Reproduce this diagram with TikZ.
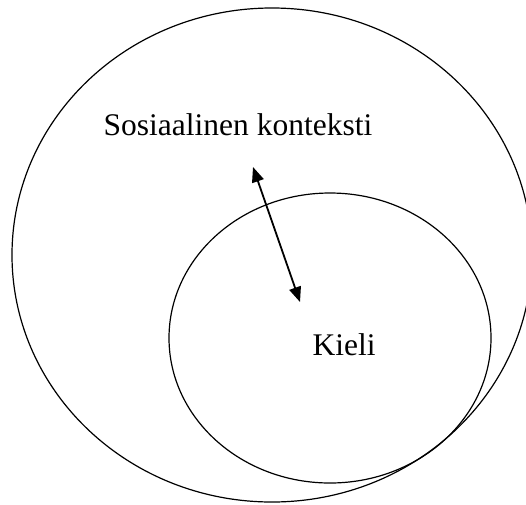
\documentclass[tikz,border=0pt]{standalone}
\usepackage{fontspec}
\setmainfont{Liberation Serif}
\usetikzlibrary{arrows.meta,positioning,shapes.geometric}

\begin{document}
\begin{tikzpicture}[
  x=1pt, y=-1pt,
  every node/.style={font=\fontsize{31.5}{38}\selectfont},
  circlebox/.style={ellipse, draw, line width=1.2pt, inner sep=0pt, outer sep=0pt},
  label/.style={anchor=base, inner sep=0pt},
  link/.style={line width=1.8pt, {Triangle[length=15pt,width=12pt]}-{Triangle[length=15pt,width=12pt]}}
]
\useasboundingbox (0,0) rectangle (526,504);

% Ellipses
\node[circlebox, minimum width=520pt, minimum height=494pt] (context) at (272,255) {};
\node[circlebox, minimum width=322pt, minimum height=290pt] (language) at (330,338) {};

% Texts
\node[label] (konteksti) at (238,135) {Sosiaalinen konteksti};
\node[label] (kieli) at (344,355) {Kieli};

% Arrow
\coordinate (top) at (253,167);
\coordinate (bottom) at (300,302);
\draw[link] (top) -- (bottom);

\end{tikzpicture}
\end{document}
